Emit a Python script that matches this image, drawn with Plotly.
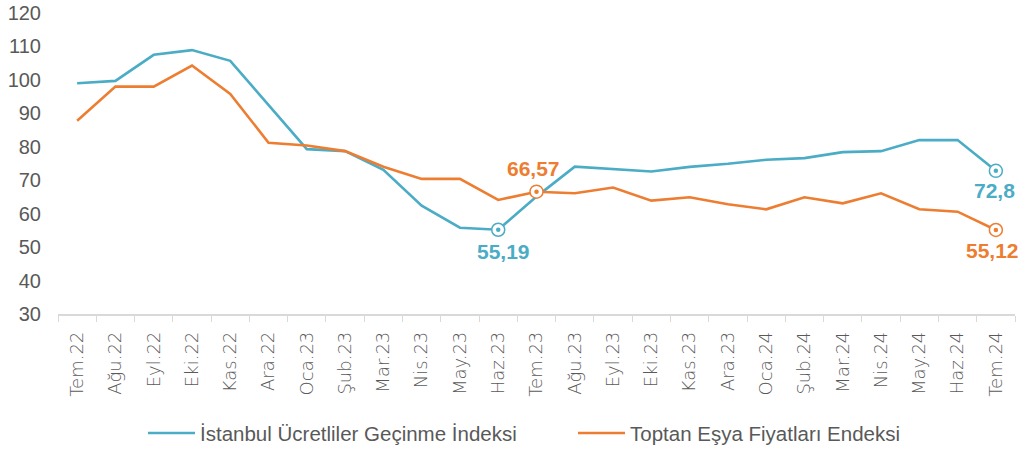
import plotly.graph_objects as go

months = ["Tem.22", "Ağu.22", "Eyl.22", "Eki.22", "Kas.22", "Ara.22", "Oca.23", "Şub.23",
          "Mar.23", "Nis.23", "May.23", "Haz.23", "Tem.23", "Ağu.23", "Eyl.23", "Eki.23",
          "Kas.23", "Ara.23", "Oca.24", "Şub.24", "Mar.24", "Nis.24", "May.24", "Haz.24", "Tem.24"]

istanbul = [99.0, 99.7, 107.5, 108.9, 105.7, 92.5, 79.3, 78.7, 73.1, 62.4, 55.8, 55.19, 65.1,
            74.05, 73.3, 72.6, 74.0, 74.9, 76.1, 76.6, 78.4, 78.7, 82.0, 82.0, 72.8]

toptan = [87.8, 98.0, 98.0, 104.3, 95.8, 81.2, 80.4, 78.7, 74.05, 70.4, 70.4, 64.1, 66.57,
          66.1, 67.8, 63.9, 64.9, 62.8, 61.3, 64.9, 63.1, 66.1, 61.3, 60.6, 55.12]

series_names = ["İstanbul Ücretliler Geçinme İndeksi", "Toptan Eşya Fiyatları Endeksi"]
y_ticks = [30, 40, 50, 60, 70, 80, 90, 100, 110, 120]

# highlighted points: (series index, month index, yshift, xshift)
highlights = [(0, 11, -22, 5), (0, 24, -20, -1), (1, 12, 23, -3), (1, 24, -21, -3)]

BLUE = "#4BACC6"
ORANGE = "#ED7D31"
GRAY = "#595959"
colors = [BLUE, ORANGE]
data = [istanbul, toptan]

W, H = 1019, 449
ML, MR, MT, MB = 58, 4, 13, 135
pw, ph = W - ML - MR, H - MT - MB

def px_to_paper(x, y):
    return (x - ML) / pw, (H - MB - y) / ph

fig = go.Figure()

for name, vals, c in zip(series_names, data, colors):
    fig.add_trace(go.Scatter(x=months, y=vals, mode="lines", name=name, showlegend=False,
                             line=dict(color=c, width=2.6), hoverinfo="skip"))

annotations = []
for si, mi, ys, xs in highlights:
    c = colors[si]
    v = data[si][mi]
    fig.add_trace(go.Scatter(x=[months[mi]], y=[v], mode="markers", showlegend=False,
                             marker=dict(symbol="circle", size=13, color="white",
                                         line=dict(color=c, width=1.5)), hoverinfo="skip"))
    fig.add_trace(go.Scatter(x=[months[mi]], y=[v], mode="markers", showlegend=False,
                             marker=dict(symbol="circle", size=4.5, color=c, line=dict(width=0)),
                             hoverinfo="skip"))
    txt = f"{v:g}".replace(".", ",")
    annotations.append(dict(x=months[mi], y=v, xref="x", yref="y", text=f"<b>{txt}</b>",
                            showarrow=False, font=dict(family="Liberation Sans", size=21, color=c),
                            yshift=ys, xshift=xs))

# manual legend (line sample + text)
shapes = []
legend_items = [(148, 195, 198), (578, 625, 628)]
for (x0, x1, xt), name, c in zip(legend_items, series_names, colors):
    px0, py = px_to_paper(x0, 433)
    px1, _ = px_to_paper(x1, 433)
    pxt, _ = px_to_paper(xt, 433)
    shapes.append(dict(type="line", xref="paper", yref="paper", x0=px0, x1=px1, y0=py, y1=py,
                       line=dict(color=c, width=2.6)))
    annotations.append(dict(x=pxt, y=py, xref="paper", yref="paper", text=name,
                            showarrow=False, xanchor="left", yanchor="middle",
                            font=dict(family="Liberation Sans", size=20.5, color=GRAY)))

fig.update_layout(
    width=W, height=H,
    margin=dict(l=ML, r=MR, t=MT, b=MB, autoexpand=False),
    paper_bgcolor="white", plot_bgcolor="rgba(0,0,0,0)",
    font=dict(family="Liberation Sans", color=GRAY),
    showlegend=False,
    hovermode=False,
    annotations=annotations,
    shapes=shapes,
    xaxis=dict(type="category", categoryorder="array", categoryarray=months,
               range=[-0.5, len(months) - 0.5], showgrid=False, zeroline=False,
               showline=True, linecolor="#D9D9D9", linewidth=1.5, automargin=False,
               ticks="outside", tickson="boundaries", ticklen=6, tickcolor="#D9D9D9",
               tickangle=-90, tickfont=dict(family="DejaVu Sans", size=18, color=GRAY, weight=300),
               ticklabelstandoff=9),
    yaxis=dict(range=[30, 120], tickvals=y_ticks, showgrid=False, zeroline=False,
               showline=False, ticks="", automargin=False, ticklabeloverflow="allow",
               tickfont=dict(family="Liberation Sans", size=20, color=GRAY),
               ticklabelstandoff=16),
)

fig.write_html("out.html",
               config={"displayModeBar": False, "staticPlot": True},
               post_script="document.body.style.margin='0';document.body.style.overflow='hidden';")
